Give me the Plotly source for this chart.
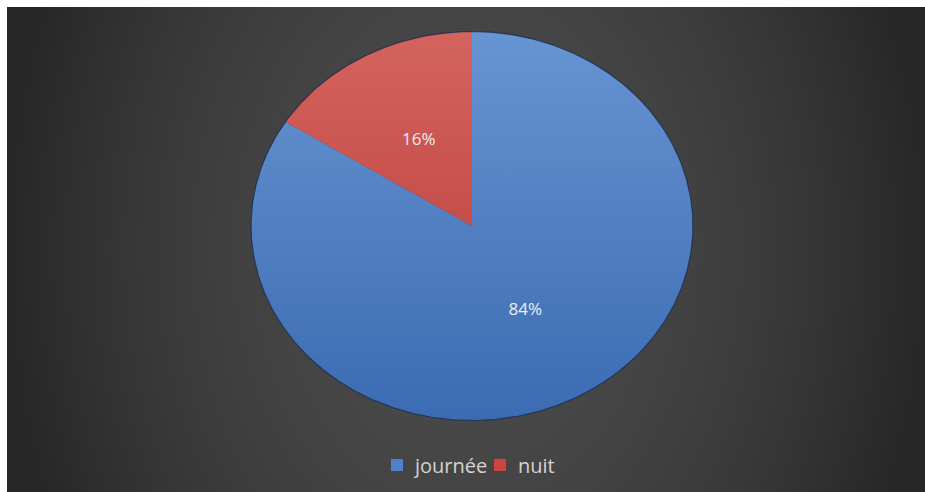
import numpy as np
import plotly.graph_objects as go

# Share of the total by period
categories = ["journée", "nuit"]
values = [84, 16]

# Slice fills (top / bottom of the vertical gradient) and legend swatches
top_colors = ["#6794d2", "#d4635e"]
bottom_colors = ["#3b6bb2", "#b83835"]
swatch_colors = ["#4f81c8", "#cc4540"]

W, H = 925, 492
# Pie ellipse geometry in pixels (centre, radii)
CX, CY, RX, RY = 472, 226, 221, 194.5

fig = go.Figure()

# Dark radial backdrop
gx = np.linspace(0, 1, 90)
gy = np.linspace(0, 1, 60)
GX, GY = np.meshgrid(gx, gy)
dist = np.sqrt(((GX - 0.5) / 0.5) ** 2 + 0.15 * ((GY - 0.5) / 0.5) ** 2)
shade = np.clip(dist, 0, 1) ** 1.8
fig.add_trace(go.Heatmap(
    x=gx, y=gy, z=shade, zmin=0, zmax=1, zsmooth="best",
    colorscale=[[0, "#4b4b4b"], [1, "#272727"]],
    showscale=False, hoverinfo="skip", xaxis="x", yaxis="y",
))

# Pie slices, clockwise from 12 o'clock, drawn on a unit circle
total = float(sum(values))
start = 0.0
label_x, label_y, label_txt = [], [], []
for name, v, ct, cb in zip(categories, values, top_colors, bottom_colors):
    frac = v / total
    t = np.linspace(start, start + frac, max(int(frac * 500), 3)) * 2 * np.pi
    xs = np.concatenate([[0.0], np.sin(t), [0.0]])
    ys = np.concatenate([[0.0], np.cos(t), [0.0]])
    fig.add_trace(go.Scatter(
        x=xs, y=ys, mode="lines", fill="toself",
        line=dict(width=0, color=cb),
        fillgradient=dict(type="vertical", colorscale=[[0, cb], [1, ct]],
                          start=-1, stop=1),
        name=name, hoverinfo="name", showlegend=False,
        xaxis="x2", yaxis="y2",
    ))
    mid = (start + frac / 2) * 2 * np.pi
    label_x.append(0.5 * np.sin(mid))
    label_y.append(0.5 * np.cos(mid))
    label_txt.append(f"{round(frac * 100)}%")
    start += frac

# Thin outline round the pie
tt = np.linspace(0, 2 * np.pi, 600)
fig.add_trace(go.Scatter(
    x=np.sin(tt), y=np.cos(tt), mode="lines",
    line=dict(width=1.2, color="rgba(30,48,78,0.85)"),
    hoverinfo="skip", showlegend=False, xaxis="x2", yaxis="y2",
))

# Percentage labels
fig.add_trace(go.Scatter(
    x=label_x, y=label_y, mode="text", text=label_txt,
    textfont=dict(family="Open Sans", size=17, color="#eeeeee"),
    hoverinfo="skip", showlegend=False, xaxis="x2", yaxis="y2",
))

# Legend row at the bottom
def px(x):
    return x / W


def py(y):
    return 1 - y / H


shapes, annotations = [], []
legend_layout = [(391, 411), (494, 516)]
for (sq_x, txt_x), name, col in zip(legend_layout, categories, swatch_colors):
    shapes.append(dict(type="rect", xref="paper", yref="paper",
                       x0=px(sq_x), x1=px(sq_x + 12),
                       y0=py(471), y1=py(459),
                       fillcolor=col, line=dict(width=0)))
    annotations.append(dict(text=name, xref="paper", yref="paper",
                            x=px(txt_x), y=py(465), xanchor="left",
                            yanchor="middle", showarrow=False,
                            font=dict(family="Open Sans", size=20,
                                      color="#d4d4d4")))

hidden = dict(visible=False, showgrid=False, zeroline=False, fixedrange=True)
fig.update_layout(
    width=W, height=H,
    margin=dict(l=0, r=0, t=0, b=0),
    paper_bgcolor="#ffffff",
    plot_bgcolor="rgba(0,0,0,0)",
    showlegend=False,
    xaxis=dict(domain=[7 / W, 1], range=[0, 1], **hidden),
    yaxis=dict(domain=[0, (H - 7) / H], range=[0, 1], **hidden),
    xaxis2=dict(domain=[0, 1], anchor="y2",
                range=[(0 - CX) / RX, (W - CX) / RX], **hidden),
    yaxis2=dict(domain=[0, 1], anchor="x2",
                range=[-(H - CY) / RY, CY / RY], **hidden),
    shapes=shapes,
    annotations=annotations,
)

fig.write_html("out.html")
